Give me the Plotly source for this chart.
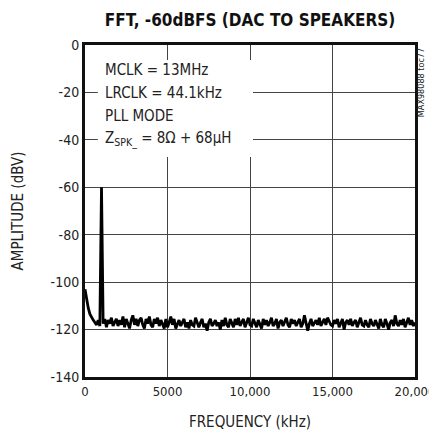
import plotly.graph_objects as go

# ---- data ----
freq_step_hz = 100
amplitude_dbv = [
    -103, -108, -111, -113.5, -115, -116, -117, -118, -116, -118.5,
    -60, -117.5, -115.5, -119, -116, -117.5, -115, -118.5, -117, -115.5,
    -118.5, -116, -118, -114.5, -119, -115.5, -117.5, -119.5, -116, -114,
    -118, -115.5, -118.5, -116, -115, -118, -119.5, -115.5, -117.5, -114.5,
    -118, -119, -115.5, -117.5, -115, -118.5, -116, -118, -119.5, -115.5,
    -119, -117, -114.5, -118, -115.5, -119.5, -117.5, -116, -118.5, -117,
    -115.5, -119, -117, -119.5, -116, -118, -118.5, -115, -117.5, -119,
    -117, -115.5, -119, -117.5, -120.5, -117, -115.5, -118.5, -117.5, -116,
    -118.5, -117, -120, -116, -118.5, -115, -118, -119, -115.5, -117.5,
    -119, -115.5, -118, -115, -118.5, -117, -115.5, -119, -117, -115,
    -118, -118.5, -115.5, -117.5, -119, -116, -118, -119.5, -115.5, -118,
    -116, -118.5, -117, -115, -118.5, -117.5, -115.5, -119.5, -117, -116,
    -118.5, -117, -115, -118, -119, -115.5, -117.5, -116, -118.5, -117,
    -115.5, -119, -117.5, -114, -117.5, -120.5, -117.5, -115.5, -118.5, -117,
    -116, -118, -115, -118.5, -117, -115.5, -118, -115, -116.5, -118,
    -118.5, -116, -117.5, -115.5, -119, -117.5, -115.5, -120, -117, -116,
    -118, -115.5, -118.5, -117, -116, -119, -117, -115, -118, -118.5,
    -116, -118, -119, -115.5, -117.5, -118.5, -116, -118, -119.5, -115.5,
    -118, -119, -115.5, -117.5, -120, -117, -116, -118.5, -114, -117.5,
    -118.5, -116, -118, -115.5, -119, -117, -115, -118, -116, -118.5,
    -117,
]
frequency = [i * freq_step_hz for i in range(len(amplitude_dbv))]

x_tickvals = [0, 5000, 10000, 15000, 20000]
x_ticktext = ["0", "5000", "10,000", "15,000", "20,000"]
y_tickvals = [0, -20, -40, -60, -80, -100, -120, -140]
y_ticktext = ["0", "-20", "-40", "-60", "-80", "-100", "-120", "-140"]

title_text = "FFT, -60dBFS (DAC TO SPEAKERS)"
x_title = "FREQUENCY (kHz)"
y_title = "AMPLITUDE (dBV)"
notes = ["MCLK = 13MHz", "LRCLK = 44.1kHz", "PLL MODE",
         "Z<sub>SPK_</sub> = 8Ω + 68µH"]
tag = "MAX98088 toc77"

FONT = "Liberation Sans Narrow, Arial Narrow, DejaVu Sans Condensed, sans-serif"

# page body has an 8px margin
W, H = 437, 431
L, T, R, B = 77, 37, 30, 62
PW, PH = W - L - R, H - T - B

fig = go.Figure()
fig.add_trace(go.Scatter(x=frequency, y=amplitude_dbv, mode="lines",
                         line=dict(color="black", width=2.8),
                         showlegend=False, hoverinfo="skip"))

fig.update_layout(
    width=W, height=H,
    margin=dict(l=L, r=R, t=T, b=B, pad=0, autoexpand=False),
    paper_bgcolor="white", plot_bgcolor="white",
    font=dict(family=FONT, size=15, color="#222"),
    title=dict(text="<b>" + title_text + "</b>", x=(L + PW / 2) / W,
               xanchor="center", y=1 - 12 / H, yanchor="middle",
               yref="container",
               font=dict(family=FONT, size=17, color="#111")),
)
fig.update_xaxes(range=[0, 20000], tickvals=x_tickvals, ticktext=x_ticktext,
                 showgrid=True, gridcolor="#444", gridwidth=1,
                 showline=True, linecolor="#111", linewidth=3, mirror=True,
                 ticks="", zeroline=False, tickfont=dict(size=13),
                 title=dict(text=x_title, standoff=19,
                            font=dict(family=FONT, size=15, color="#222")))
fig.update_yaxes(range=[-140, 0], tickvals=y_tickvals, ticktext=y_ticktext,
                 showgrid=True, gridcolor="#444", gridwidth=1,
                 showline=True, linecolor="#111", linewidth=3, mirror=True,
                 ticks="", zeroline=False, tickfont=dict(size=14),
                 title=dict(text=y_title, standoff=24,
                            font=dict(family=FONT, size=15, color="#222")))

# white box behind notes
fig.add_shape(type="rect", xref="paper", yref="paper",
              x0=0.039, x1=0.509, y0=0.663, y1=0.955,
              fillcolor="white", line=dict(width=0), layer="above")
note_y = [0.925, 0.855, 0.786, 0.717]
for t, yy in zip(notes, note_y):
    fig.add_annotation(text=t, xref="paper", yref="paper", x=0.055, y=yy,
                       xanchor="left", yanchor="middle", showarrow=False,
                       font=dict(family=FONT, size=15, color="#222"))

# vertical tag on the right edge, as an invisible line's label
tag_x = 340 / PW
fig.add_shape(type="line", xref="paper", yref="paper",
              x0=tag_x, x1=tag_x, y0=1 - 75 / PH, y1=1 - 0 / PH,
              line=dict(color="rgba(0,0,0,0)", width=1),
              label=dict(text=tag, textangle=-90, textposition="middle",
                         padding=0,
                         font=dict(family=FONT, size=9, color="#222")))

fig.write_html("out.html")
